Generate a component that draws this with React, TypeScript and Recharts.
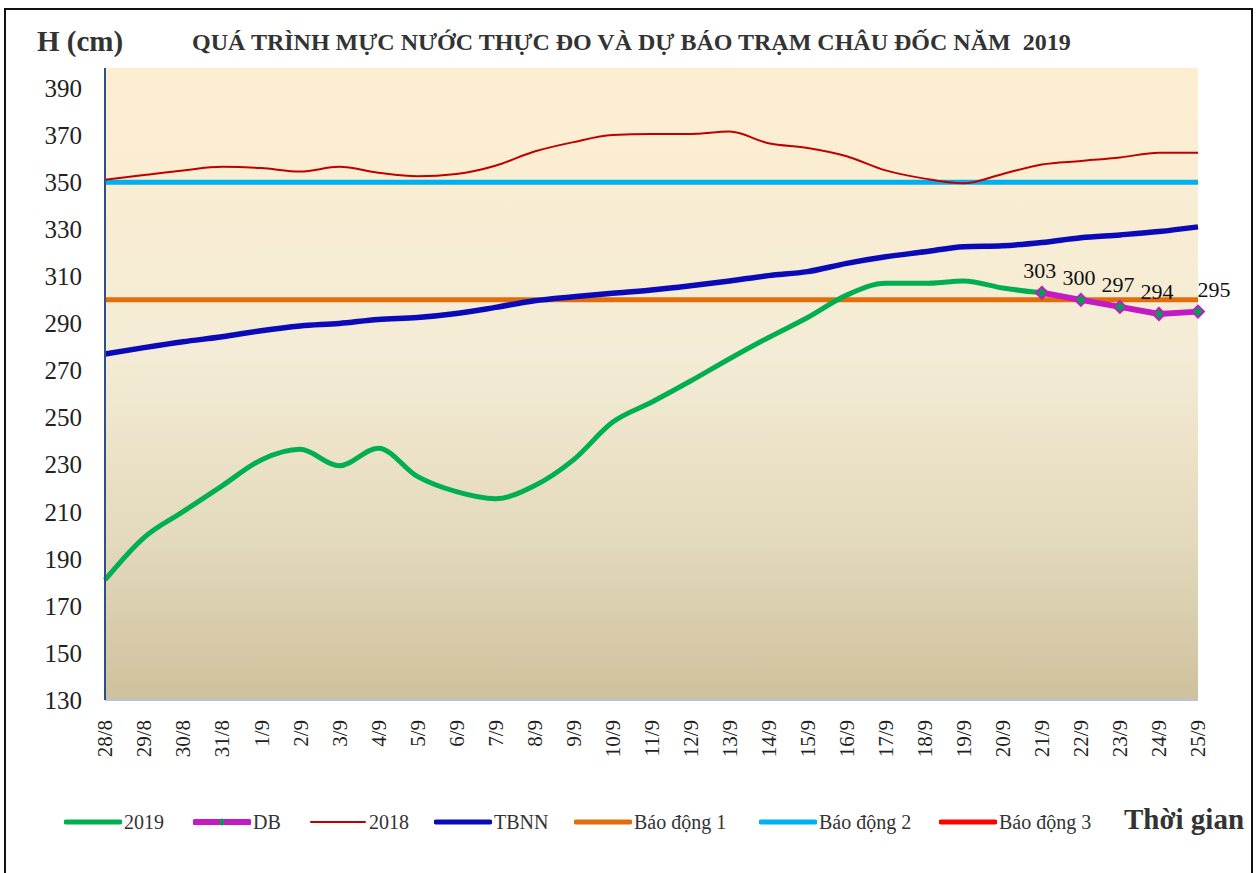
import React from "react";
import {
  LineChart,
  Line,
  XAxis,
  YAxis,
  CartesianGrid,
  ReferenceLine,
  LabelList,
} from "recharts";

const DATES = [
  "28/8", "29/8", "30/8", "31/8", "1/9", "2/9", "3/9", "4/9", "5/9", "6/9",
  "7/9", "8/9", "9/9", "10/9", "11/9", "12/9", "13/9", "14/9", "15/9", "16/9",
  "17/9", "18/9", "19/9", "20/9", "21/9", "22/9", "23/9", "24/9", "25/9",
];

const H_2019 = [
  181, 199, 210, 221, 232, 236.5, 229.5, 237, 225, 218.5,
  215.5, 221, 232, 248, 256.5, 265.5, 275, 284, 292.5, 302,
  307, 307, 308, 305, 303, null, null, null, null,
];

const H_DB = [
  null, null, null, null, null, null, null, null, null, null,
  null, null, null, null, null, null, null, null, null, null,
  null, null, null, null, 303, 300, 297, 294, 295,
];

const H_2018 = [
  351, 353, 355, 356.5, 356, 354.5, 356.5, 354, 352.5, 353.5,
  357, 363, 367, 370, 370.5, 370.5, 371.5, 366.5, 364.5, 361,
  355, 351.5, 349.5, 353.5, 357.5, 359, 360.5, 362.5, 362.5,
];

const H_TBNN = [
  277, 279.7, 282.2, 284.3, 286.9, 288.9, 290, 291.7, 292.5, 294.2,
  296.8, 299.6, 301.3, 302.8, 304.2, 306, 308, 310.3, 312, 315.5,
  318.3, 320.4, 322.6, 323, 324.4, 326.4, 327.6, 329, 331,
];

const ALARM_LEVELS = [300, 350, 400];
const ALARM_NAMES = ["Báo động 1", "Báo động 2", "Báo động 3"];

const Y_TICKS = [130, 150, 170, 190, 210, 230, 250, 270, 290, 310, 330, 350, 370, 390];

const ALARM_COLORS = ["#E46C0A", "#00B0F0", "#FF0000"];
const SERIF = "'Liberation Serif', 'Times New Roman', serif";

const chartData = DATES.map((d, i) => ({
  date: d,
  h2019: H_2019[i],
  db: H_DB[i],
  h2018: H_2018[i],
  tbnn: H_TBNN[i],
}));

const XTick = ({ x, y, payload }: any) => (
  <g transform={`translate(${x},${y + 12}) rotate(-90)`}>
    <text
      x={0}
      y={0}
      dy="0.35em"
      textAnchor="end"
      fontSize={21}
      fontFamily={SERIF}
      fill="#222"
    >
      {payload.value}
    </text>
  </g>
);

const DbDot = ({ cx, cy, value }: any) => {
  if (value == null || cx == null) return null;
  const r = 6;
  return (
    <polygon
      points={`${cx},${cy - r} ${cx + r},${cy} ${cx},${cy + r} ${cx - r},${cy}`}
      fill="#00A050"
      stroke="#C41AC4"
      strokeWidth={2}
    />
  );
};

const DbLabel = ({ x, y, value, index }: any) => {
  if (value == null) return null;
  const shift = index === DATES.length - 1 ? 16 : -2;
  return (
    <text
      x={x + shift}
      y={y - 15}
      textAnchor="middle"
      fontSize={22}
      fontFamily={SERIF}
      fill="#111"
    >
      {value}
    </text>
  );
};

const legendItems = [
  { label: "2019", color: "#00B050", width: 5, x: 64 },
  { label: "DB", color: "#C41AC4", width: 6, x: 193, marker: true },
  { label: "2018", color: "#C00000", width: 2, x: 309 },
  { label: "TBNN", color: "#0A0AB8", width: 5, x: 434 },
  { label: ALARM_NAMES[0], color: ALARM_COLORS[0], width: 5, x: 574 },
  { label: ALARM_NAMES[1], color: ALARM_COLORS[1], width: 5, x: 759 },
  { label: ALARM_NAMES[2], color: ALARM_COLORS[2], width: 5, x: 939 },
];

export default function App() {
  return (
    <div
      style={{
        position: "absolute",
        left: 0,
        top: 0,
        width: 1259,
        height: 873,
        background: "#fff",
        overflow: "hidden",
        fontFamily: SERIF,
      }}
    >
      <div
        style={{
          position: "absolute",
          left: 4,
          top: 8,
          width: 1249,
          height: 880,
          border: "2px solid #111",
          boxSizing: "border-box",
        }}
      />
      <div
        style={{
          position: "absolute",
          left: 37,
          top: 25,
          fontSize: 29,
          fontWeight: "bold",
          color: "#333",
          whiteSpace: "nowrap",
        }}
      >
        H (cm)
      </div>
      <div
        style={{
          position: "absolute",
          left: 192,
          top: 29,
          fontSize: 24,
          fontWeight: "bold",
          color: "#333",
          whiteSpace: "pre",
        }}
      >
        QUÁ TRÌNH MỰC NƯỚC THỰC ĐO VÀ DỰ BÁO TRẠM CHÂU ĐỐC NĂM  2019
      </div>

      <div style={{ position: "absolute", left: 0, top: 0 }}>
        <LineChart
          width={1259}
          height={873}
          data={chartData}
          margin={{ top: 68, right: 61, bottom: 103, left: 45 }}
        >
          <defs>
            <linearGradient id="plotBg" x1="0" y1="0" x2="0" y2="1">
              <stop offset="0%" stopColor="#FDEED0" />
              <stop offset="45%" stopColor="#F4ECD6" />
              <stop offset="75%" stopColor="#E3D9BB" />
              <stop offset="100%" stopColor="#CEC19D" />
            </linearGradient>
          </defs>
          <CartesianGrid
            fill="url(#plotBg)"
            horizontal={false}
            vertical={false}
          />
          <XAxis
            dataKey="date"
            scale="point"
            padding={{ left: 0, right: 0 }}
            interval={0}
            height={70}
            tickLine={false}
            axisLine={{ stroke: "#B4C4DA", strokeWidth: 2 }}
            tick={<XTick />}
          />
          <XAxis
            xAxisId="top"
            dataKey="date"
            orientation="top"
            height={0}
            tick={false}
            tickLine={false}
            axisLine={{ stroke: "#2F4F86", strokeWidth: 2 }}
          />
          <YAxis
            type="number"
            domain={[130, 398.5]}
            ticks={Y_TICKS}
            interval={0}
            width={60}
            tickLine={false}
            tickSize={0}
            tickMargin={23}
            axisLine={{ stroke: "#2F4F86", strokeWidth: 2 }}
            tick={{ fontSize: 25, fontFamily: SERIF, fill: "#222" }}
          />
          <YAxis
            yAxisId="right"
            orientation="right"
            domain={[130, 398.5]}
            width={0}
            tick={false}
            tickLine={false}
            axisLine={{ stroke: "#6A819F", strokeWidth: 1 }}
          />
          {ALARM_LEVELS.map((v, i) => (
            <ReferenceLine
              key={ALARM_NAMES[i]}
              y={v}
              stroke={ALARM_COLORS[i]}
              strokeWidth={5}
            />
          ))}
          <Line
            dataKey="h2018"
            type="monotone"
            stroke="#C00000"
            strokeWidth={2}
            dot={false}
            isAnimationActive={false}
          />
          <Line
            dataKey="tbnn"
            type="monotone"
            stroke="#0A0AB8"
            strokeWidth={5.5}
            dot={false}
            isAnimationActive={false}
          />
          <Line
            dataKey="h2019"
            type="monotone"
            stroke="#00B050"
            strokeWidth={5}
            dot={false}
            isAnimationActive={false}
          />
          <Line
            dataKey="db"
            type="linear"
            stroke="#C41AC4"
            strokeWidth={6}
            dot={<DbDot />}
            activeDot={false}
            isAnimationActive={false}
          >
            <LabelList dataKey="db" content={<DbLabel />} />
          </Line>
        </LineChart>
      </div>

      {legendItems.map((it) => (
        <div
          key={it.label}
          style={{
            position: "absolute",
            left: it.x,
            top: 810,
            height: 24,
            display: "flex",
            alignItems: "center",
            whiteSpace: "nowrap",
          }}
        >
          <svg width={58} height={14} style={{ marginRight: 2 }}>
            <line
              x1={2}
              x2={56}
              y1={7}
              y2={7}
              stroke={it.color}
              strokeWidth={it.width}
              strokeLinecap="round"
            />
            {it.marker && (
              <polygon points="29,3 32,7 29,11 26,7" fill="#00A050" />
            )}
          </svg>
          <span style={{ fontSize: 20, color: "#333" }}>{it.label}</span>
        </div>
      ))}
      <div
        style={{
          position: "absolute",
          left: 1124,
          top: 803,
          fontSize: 29,
          fontWeight: "bold",
          color: "#333",
          whiteSpace: "nowrap",
        }}
      >
        Thời gian
      </div>
    </div>
  );
}
